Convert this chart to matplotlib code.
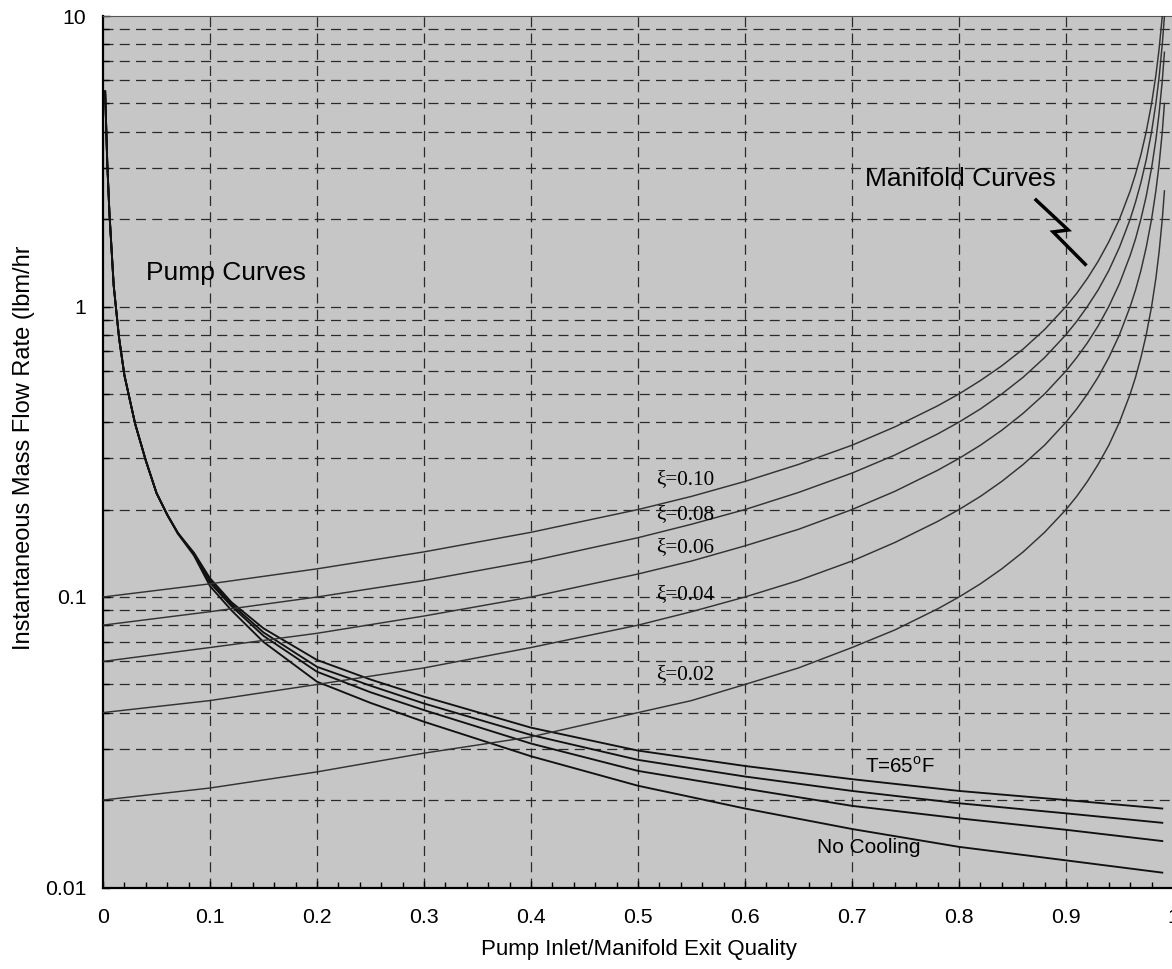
import matplotlib
matplotlib.use("Agg")
import matplotlib.pyplot as plt
from matplotlib.ticker import FixedLocator, MultipleLocator, NullFormatter
from matplotlib.transforms import Bbox

# ---------------- data ----------------
# Pump curves: shared x grid, four temperature cases (top = T=65F ... bottom = No Cooling)
pump_x = [0.002, 0.004, 0.006, 0.01, 0.015, 0.02, 0.03, 0.04, 0.05, 0.06, 0.07, 0.085,
          0.10, 0.12, 0.15, 0.20, 0.25, 0.30, 0.40, 0.50, 0.60, 0.70, 0.80, 0.90, 0.99]
pump_65F = [5.5, 3.1, 2.1, 1.18, 0.78, 0.58, 0.395, 0.295, 0.228, 0.192, 0.166, 0.142,
            0.116, 0.096, 0.078, 0.0607, 0.052, 0.0454, 0.0355, 0.0296, 0.0262, 0.0236, 0.0215, 0.0200, 0.0187]
pump_b = [5.5, 3.1, 2.1, 1.18, 0.78, 0.58, 0.395, 0.295, 0.228, 0.192, 0.166, 0.141,
          0.114, 0.0945, 0.0755, 0.0575, 0.0495, 0.0430, 0.0335, 0.0275, 0.0241, 0.0215, 0.0195, 0.0180, 0.0167]
pump_c = [5.5, 3.1, 2.1, 1.18, 0.78, 0.58, 0.395, 0.295, 0.228, 0.192, 0.166, 0.140,
          0.112, 0.093, 0.0735, 0.0553, 0.0470, 0.0408, 0.0313, 0.0252, 0.0219, 0.0191, 0.0173, 0.0158, 0.01445]
pump_nocool = [5.5, 3.1, 2.1, 1.18, 0.78, 0.58, 0.395, 0.295, 0.228, 0.192, 0.165, 0.139,
               0.109, 0.090, 0.0700, 0.0511, 0.0432, 0.0372, 0.0283, 0.0224, 0.0187, 0.0159, 0.0138, 0.0124, 0.01125]

# Manifold curves (xi = 0.02 ... 0.10)
man_x = [0.0, 0.1, 0.2, 0.3, 0.4, 0.5, 0.55, 0.6, 0.65, 0.7, 0.74, 0.78, 0.8, 0.82, 0.84, 0.86, 0.88,
         0.9, 0.91, 0.92, 0.93, 0.94, 0.95, 0.96, 0.965, 0.97, 0.975, 0.98, 0.984, 0.987, 0.99, 0.992]
man_xi010 = [0.100, 0.111, 0.125, 0.143, 0.167, 0.200, 0.222, 0.250, 0.286, 0.333, 0.385, 0.455, 0.500, 0.556,
             0.625, 0.714, 0.833, 1.00, 1.11, 1.25, 1.43, 1.67, 2.00, 2.50, 2.86, 3.33, 4.00, 5.00, 6.25,
             7.69, 10.0, 12.5]
man_xi008 = [0.080, 0.089, 0.100, 0.114, 0.133, 0.160, 0.178, 0.200, 0.229, 0.267, 0.308, 0.364, 0.400, 0.444,
             0.500, 0.571, 0.667, 0.800, 0.889, 1.00, 1.14, 1.33, 1.60, 2.00, 2.29, 2.67, 3.20, 4.00, 5.00,
             6.15, 8.00, 10.0]
man_xi006 = [0.060, 0.067, 0.075, 0.086, 0.100, 0.120, 0.133, 0.150, 0.171, 0.200, 0.231, 0.273, 0.300, 0.333,
             0.375, 0.429, 0.500, 0.600, 0.667, 0.750, 0.857, 1.00, 1.20, 1.50, 1.71, 2.00, 2.40, 3.00, 3.75,
             4.62, 6.00, 7.50]
man_xi004 = [0.040, 0.044, 0.050, 0.057, 0.067, 0.080, 0.089, 0.100, 0.114, 0.133, 0.154, 0.182, 0.200, 0.222,
             0.250, 0.286, 0.333, 0.400, 0.444, 0.500, 0.571, 0.667, 0.800, 1.00, 1.14, 1.33, 1.60, 2.00, 2.50,
             3.08, 4.00, 5.00]
man_xi002 = [0.020, 0.022, 0.025, 0.029, 0.033, 0.040, 0.044, 0.050, 0.057, 0.067, 0.077, 0.091, 0.100, 0.111,
             0.125, 0.143, 0.167, 0.200, 0.222, 0.250, 0.286, 0.333, 0.400, 0.500, 0.571, 0.667, 0.800, 1.00,
             1.25, 1.54, 2.00, 2.50]
man_labels = ["\u03be=0.10", "\u03be=0.08", "\u03be=0.06", "\u03be=0.04", "\u03be=0.02"]
man_label_y = [0.253, 0.192, 0.148, 0.102, 0.0541]

x_ticks = [0, 0.1, 0.2, 0.3, 0.4, 0.5, 0.6, 0.7, 0.8, 0.9, 1]
x_ticklabels = ["0", "0.1", "0.2", "0.3", "0.4", "0.5", "0.6", "0.7", "0.8", "0.9", "1"]
y_ticks = [0.01, 0.1, 1, 10]
y_ticklabels = ["0.01", "0.1", "1", "10"]
y_minor = [m * 10.0 ** e for e in (-2, -1, 0) for m in range(2, 10)]

# ---------------- figure ----------------
W, H = 1172, 969
fig = plt.figure(figsize=(W / 100, H / 100), dpi=100)
plt.rcParams['font.family'] = ['Liberation Sans', 'DejaVu Sans']
plt.rcParams['mathtext.fontset'] = 'custom'
plt.rcParams['mathtext.rm'] = 'Liberation Sans'

ax = fig.add_axes([103 / W, 1 - 887.5 / H, 1070 / W, 871.5 / H])
ax.set_facecolor('#c6c6c6')
ax.set_yscale('log')
ax.set_xlim(0, 1)
ax.set_ylim(0.01, 10)

# grid
grid_kw = dict(color='#2a2a2a', linewidth=0.9, linestyle=(0, (8, 5)), zorder=1)
for xv in x_ticks[1:-1]:
    ax.axvline(xv, **grid_kw)
for yv in y_ticks[1:-1] + y_minor:
    ax.axhline(yv, **grid_kw)

for ys in (pump_65F, pump_b, pump_c, pump_nocool):
    ax.plot(pump_x, ys, color='#111111', linewidth=1.35, zorder=3)
for ys in (man_xi010, man_xi008, man_xi006, man_xi004, man_xi002):
    ax.plot(man_x, ys, color='#333333', linewidth=1.05, zorder=3)

# ticks
ax.xaxis.set_major_locator(FixedLocator(x_ticks))
ax.set_xticklabels(x_ticklabels)
ax.xaxis.set_minor_locator(MultipleLocator(0.02))
ax.yaxis.set_major_locator(FixedLocator(y_ticks))
ax.set_yticklabels(y_ticklabels)
ax.yaxis.set_minor_locator(FixedLocator(y_minor))
ax.yaxis.set_minor_formatter(NullFormatter())
ax.tick_params(which='both', direction='in', top=False, right=False, labelsize=15.3, color='black')
ax.tick_params(which='major', length=5, width=1)
ax.tick_params(which='minor', length=4, width=1)
ax.tick_params(axis='x', pad=14.5)
ax.tick_params(axis='y', pad=12)

for side in ('left', 'bottom'):
    ax.spines[side].set_linewidth(1.6)
ax.spines['top'].set_linewidth(0.8)
ax.spines['top'].set_color('#555555')
ax.spines['right'].set_visible(False)

# annotations
ax.text(0.040, 1.30, "Pump Curves", fontsize=19, ha='left', va='center', zorder=4)
ax.text(0.712, 2.75, "Manifold Curves", fontsize=19, ha='left', va='center', zorder=4)
ax.plot([0.872, 0.902, 0.888, 0.918], [2.326, 1.834, 1.806, 1.397], color='black', linewidth=2.5,
        solid_joinstyle='miter', zorder=4)
for lab, yv in zip(man_labels, man_label_y):
    ax.text(0.517, yv, lab, fontsize=15.3, family=['Liberation Serif', 'DejaVu Serif'],
            ha='left', va='center', zorder=4)
ax.text(0.712, 0.0261, r"T=65$^{\mathrm{o}}$F", fontsize=14.8, ha='left', va='center', zorder=4)
ax.text(0.667, 0.01378, "No Cooling", fontsize=15, ha='left', va='center', zorder=4)

fig.text(639 / W, 1 - 949 / H, "Pump Inlet/Manifold Exit Quality", fontsize=16, ha='center', va='center')
ylab = fig.text(24 / W, 1 - 650 / H, "Instantaneous Mass Flow Rate (lbm/hr)", fontsize=17, rotation=90,
                ha='center', va='bottom')
# the reference label is cut off just above "(lbm/h"
ylab.set_clip_box(Bbox.from_extents(0, 0, 60, H - 247))
ylab.set_clip_on(True)

fig.savefig("out.png", dpi=100)
